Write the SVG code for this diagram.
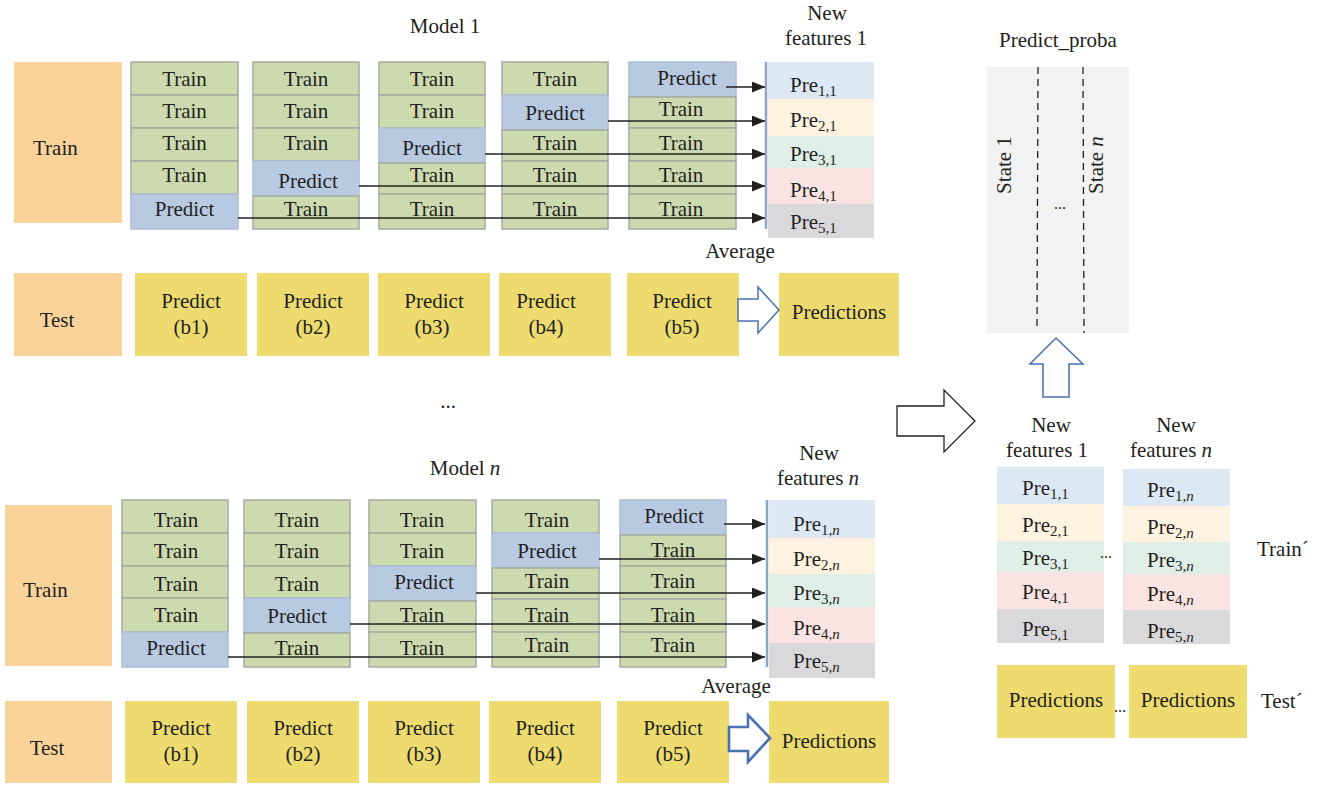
<svg xmlns="http://www.w3.org/2000/svg" width="1323" height="786" viewBox="0 0 1323 786">
<defs>
<style>
text{font-family:"Liberation Serif","Times New Roman",serif;fill:#231f20;font-size:21px}
.c{text-anchor:middle}
.g{fill:#cddab0;stroke:#a7aaa0;stroke-width:1.5}
.b{fill:#b8c9e2;stroke:#adbdd5;stroke-width:1.5}
.o{fill:#f9d39a}
.y{fill:#eddb6f}
.p1{fill:#dde8f5}.p2{fill:#fef3e0}.p3{fill:#dfeee6}.p4{fill:#fae4e3}.p5{fill:#d9d9db}
.sub{font-size:15px}
.it{font-style:italic}
.conn{stroke:#231f20;stroke-width:1.5;fill:none;marker-end:url(#ah)}
.vbar{stroke:#8fa3c4;stroke-width:2.5}
.barrow{fill:#fff;stroke:#4a72b0;stroke-width:1.5}
</style>
<marker id="ah" markerUnits="userSpaceOnUse" markerWidth="13" markerHeight="11" viewBox="0 0 13 11" refX="13" refY="5.5" orient="auto">
<path d="M0,0 L13,5.5 L0,11 z" fill="#231f20"/>
</marker>
</defs>
<rect width="1323" height="786" fill="#fff"/>

<!-- ===== Model 1 ===== -->
<g id="model1-title"><text class="c" x="445" y="33">Model  1</text></g>
<g id="train1"><rect class="o" x="14" y="62" width="108" height="161"/><text x="33" y="155">Train</text></g>

<g id="m1-col1">
<rect class="g" x="131" y="62" width="107" height="33"/><text class="c" x="184.5" y="86">Train</text>
<rect class="g" x="131" y="95" width="107" height="33"/><text class="c" x="184.5" y="118">Train</text>
<rect class="g" x="131" y="128" width="107" height="33"/><text class="c" x="184.5" y="150">Train</text>
<rect class="g" x="131" y="161" width="107" height="33"/><text class="c" x="184.5" y="182">Train</text>
<rect class="b" x="131" y="194" width="107" height="35"/><text class="c" x="184.5" y="216">Predict</text>
</g>
<g id="m1-col2">
<rect class="g" x="253" y="62" width="106" height="33"/><text class="c" x="306" y="86">Train</text>
<rect class="g" x="253" y="95" width="106" height="33"/><text class="c" x="306" y="118">Train</text>
<rect class="g" x="253" y="128" width="106" height="33"/><text class="c" x="306" y="150">Train</text>
<rect class="b" x="253" y="161" width="106" height="35"/><text class="c" x="308" y="188">Predict</text>
<rect class="g" x="253" y="196" width="106" height="33"/><text class="c" x="306" y="216">Train</text>
</g>
<g id="m1-col3">
<rect class="g" x="379" y="62" width="106" height="33"/><text class="c" x="432" y="86">Train</text>
<rect class="g" x="379" y="95" width="106" height="33"/><text class="c" x="432" y="118">Train</text>
<rect class="b" x="379" y="128" width="106" height="35"/><text class="c" x="432" y="155">Predict</text>
<rect class="g" x="379" y="163" width="106" height="31"/><text class="c" x="432" y="182">Train</text>
<rect class="g" x="379" y="194" width="106" height="35"/><text class="c" x="432" y="216">Train</text>
</g>
<g id="m1-col4">
<rect class="g" x="502" y="62" width="106" height="33"/><text class="c" x="555" y="86">Train</text>
<rect class="b" x="502" y="95" width="106" height="35"/><text class="c" x="555" y="120">Predict</text>
<rect class="g" x="502" y="130" width="106" height="31"/><text class="c" x="555" y="150">Train</text>
<rect class="g" x="502" y="161" width="106" height="33"/><text class="c" x="555" y="182">Train</text>
<rect class="g" x="502" y="194" width="106" height="35"/><text class="c" x="555" y="216">Train</text>
</g>
<g id="m1-col5">
<rect class="b" x="629" y="62" width="107" height="35"/><text class="c" x="687" y="85">Predict</text>
<rect class="g" x="629" y="97" width="107" height="31"/><text class="c" x="681" y="116">Train</text>
<rect class="g" x="629" y="128" width="107" height="33"/><text class="c" x="681" y="150">Train</text>
<rect class="g" x="629" y="161" width="107" height="33"/><text class="c" x="681" y="182">Train</text>
<rect class="g" x="629" y="194" width="107" height="35"/><text class="c" x="681" y="216">Train</text>
</g>

<g id="newfeat1-title"><text class="c" x="827" y="20">New</text><text class="c" x="826" y="45">features 1</text></g>
<g id="newfeat1">
<line class="vbar" x1="766" y1="62" x2="766" y2="229"/>
<rect class="p1" x="768" y="62" width="106" height="37"/><text x="790" y="92">Pre<tspan class="sub" dy="4">1,1</tspan></text>
<rect class="p2" x="768" y="99" width="106" height="37"/><text x="790" y="127">Pre<tspan class="sub" dy="4">2,1</tspan></text>
<rect class="p3" x="768" y="136" width="106" height="32"/><text x="790" y="161">Pre<tspan class="sub" dy="4">3,1</tspan></text>
<rect class="p4" x="768" y="168" width="106" height="36"/><text x="790" y="197">Pre<tspan class="sub" dy="4">4,1</tspan></text>
<rect class="p5" x="768" y="204" width="106" height="34"/><text x="790" y="229">Pre<tspan class="sub" dy="4">5,1</tspan></text>
</g>

<g id="test1"><rect class="o" x="14" y="273" width="108" height="83"/><text class="c" x="57" y="327">Test</text></g>
<g id="m1-b1"><rect class="y" x="135" y="273" width="112" height="83"/><text class="c" x="191" y="308">Predict</text><text class="c" x="191" y="334">(b1)</text></g>
<g id="m1-b2"><rect class="y" x="257" y="273" width="112" height="83"/><text class="c" x="313" y="308">Predict</text><text class="c" x="313" y="334">(b2)</text></g>
<g id="m1-b3"><rect class="y" x="378" y="273" width="112" height="83"/><text class="c" x="434" y="308">Predict</text><text class="c" x="432" y="334">(b3)</text></g>
<g id="m1-b4"><rect class="y" x="499" y="273" width="112" height="83"/><text class="c" x="546" y="308">Predict</text><text class="c" x="546" y="334">(b4)</text></g>
<g id="m1-b5"><rect class="y" x="627" y="273" width="112" height="83"/><text class="c" x="682" y="308">Predict</text><text class="c" x="682" y="334">(b5)</text></g>
<g id="m1-pred"><rect class="y" x="779" y="273" width="120" height="83"/><text class="c" x="839" y="319">Predictions</text></g>
<g id="m1-avg"><text class="c" x="740" y="258">Average</text></g>

<g id="ellipsis-mid"><text class="c" x="448" y="408">...</text></g>

<!-- ===== Model n ===== -->
<g id="modeln-title"><text class="c" x="465" y="475">Model <tspan class="it">n</tspan></text></g>
<g id="trainn"><rect class="o" x="5" y="505" width="107" height="161"/><text x="23" y="597">Train</text></g>

<g id="mn-col1">
<rect class="g" x="122" y="500" width="106" height="33"/><text class="c" x="176" y="527">Train</text>
<rect class="g" x="122" y="533" width="106" height="33"/><text class="c" x="176" y="558">Train</text>
<rect class="g" x="122" y="566" width="106" height="32"/><text class="c" x="176" y="591">Train</text>
<rect class="g" x="122" y="598" width="106" height="34"/><text class="c" x="176" y="622">Train</text>
<rect class="b" x="122" y="632" width="106" height="35"/><text class="c" x="176" y="655">Predict</text>
</g>
<g id="mn-col2">
<rect class="g" x="244" y="500" width="106" height="33"/><text class="c" x="297" y="527">Train</text>
<rect class="g" x="244" y="533" width="106" height="33"/><text class="c" x="297" y="558">Train</text>
<rect class="g" x="244" y="566" width="106" height="32"/><text class="c" x="297" y="591">Train</text>
<rect class="b" x="244" y="598" width="106" height="35"/><text class="c" x="297" y="623">Predict</text>
<rect class="g" x="244" y="633" width="106" height="34"/><text class="c" x="297" y="655">Train</text>
</g>
<g id="mn-col3">
<rect class="g" x="369" y="500" width="107" height="33"/><text class="c" x="422" y="527">Train</text>
<rect class="g" x="369" y="533" width="107" height="33"/><text class="c" x="422" y="558">Train</text>
<rect class="b" x="369" y="566" width="107" height="35"/><text class="c" x="424" y="589">Predict</text>
<rect class="g" x="369" y="601" width="107" height="31"/><text class="c" x="422" y="622">Train</text>
<rect class="g" x="369" y="632" width="107" height="35"/><text class="c" x="422" y="655">Train</text>
</g>
<g id="mn-col4">
<rect class="g" x="492" y="500" width="107" height="33"/><text class="c" x="547" y="527">Train</text>
<rect class="b" x="492" y="533" width="107" height="35"/><text class="c" x="547" y="558">Predict</text>
<rect class="g" x="492" y="568" width="107" height="31"/><text class="c" x="547" y="588">Train</text>
<rect class="g" x="492" y="599" width="107" height="33"/><text class="c" x="547" y="622">Train</text>
<rect class="g" x="492" y="632" width="107" height="35"/><text class="c" x="547" y="652">Train</text>
</g>
<g id="mn-col5">
<rect class="b" x="620" y="500" width="106" height="35"/><text class="c" x="674" y="523">Predict</text>
<rect class="g" x="620" y="535" width="106" height="31"/><text class="c" x="673" y="557">Train</text>
<rect class="g" x="620" y="566" width="106" height="33"/><text class="c" x="673" y="588">Train</text>
<rect class="g" x="620" y="599" width="106" height="33"/><text class="c" x="673" y="622">Train</text>
<rect class="g" x="620" y="632" width="106" height="35"/><text class="c" x="673" y="652">Train</text>
</g>

<g id="newfeatn-title"><text class="c" x="819" y="460">New</text><text class="c" x="818" y="485">features <tspan class="it">n</tspan></text></g>
<g id="newfeatn">
<line class="vbar" x1="767" y1="500" x2="767" y2="667"/>
<rect class="p1" x="769" y="500" width="106" height="38"/><text x="793" y="531">Pre<tspan class="sub" dy="4">1,<tspan class="it">n</tspan></tspan></text>
<rect class="p2" x="769" y="538" width="106" height="36"/><text x="793" y="566">Pre<tspan class="sub" dy="4">2,<tspan class="it">n</tspan></tspan></text>
<rect class="p3" x="769" y="574" width="106" height="33"/><text x="793" y="600">Pre<tspan class="sub" dy="4">3,<tspan class="it">n</tspan></tspan></text>
<rect class="p4" x="769" y="607" width="106" height="36"/><text x="793" y="635">Pre<tspan class="sub" dy="4">4,<tspan class="it">n</tspan></tspan></text>
<rect class="p5" x="769" y="643" width="106" height="35"/><text x="793" y="668">Pre<tspan class="sub" dy="4">5,<tspan class="it">n</tspan></tspan></text>
</g>

<g id="testn"><rect class="o" x="5" y="701" width="107" height="82"/><text class="c" x="47" y="755">Test</text></g>
<g id="mn-b1"><rect class="y" x="125" y="701" width="112" height="82"/><text class="c" x="181" y="735">Predict</text><text class="c" x="181" y="761">(b1)</text></g>
<g id="mn-b2"><rect class="y" x="247" y="701" width="112" height="82"/><text class="c" x="303" y="735">Predict</text><text class="c" x="303" y="761">(b2)</text></g>
<g id="mn-b3"><rect class="y" x="368" y="701" width="112" height="82"/><text class="c" x="424" y="735">Predict</text><text class="c" x="424" y="761">(b3)</text></g>
<g id="mn-b4"><rect class="y" x="489" y="701" width="112" height="82"/><text class="c" x="545" y="735">Predict</text><text class="c" x="545" y="761">(b4)</text></g>
<g id="mn-b5"><rect class="y" x="617" y="701" width="112" height="82"/><text class="c" x="673" y="735">Predict</text><text class="c" x="673" y="761">(b5)</text></g>
<g id="mn-pred"><rect class="y" x="769" y="701" width="120" height="82"/><text class="c" x="829" y="748">Predictions</text></g>
<g id="mn-avg"><text class="c" x="736" y="693">Average</text></g>

<!-- ===== Right side ===== -->
<g id="predict-proba">
<text class="c" x="1058" y="47">Predict_proba</text>
<rect x="987" y="67" width="142" height="266" fill="#f2f2f2"/>
<line x1="1038" y1="67" x2="1037" y2="327" stroke="#231f20" stroke-width="1.3" stroke-dasharray="7,5"/>
<line x1="1083" y1="67" x2="1084" y2="333" stroke="#231f20" stroke-width="1.3" stroke-dasharray="7,5"/>
<text class="c" transform="translate(1011,165) rotate(-90)">State 1</text>
<text class="c" transform="translate(1103,165) rotate(-90)">State <tspan class="it">n</tspan></text>
<text class="c" x="1060" y="209" style="font-size:16px">...</text>
</g>

<g id="rf-title1"><text class="c" x="1051" y="432">New</text><text class="c" x="1047" y="457">features 1</text></g>
<g id="rf-title2"><text class="c" x="1176" y="432">New</text><text class="c" x="1171" y="457">features <tspan class="it">n</tspan></text></g>
<g id="rf-col1">
<rect class="p1" x="997" y="467" width="107" height="37"/><text x="1022" y="495">Pre<tspan class="sub" dy="4">1,1</tspan></text>
<rect class="p2" x="997" y="504" width="107" height="37"/><text x="1022" y="532">Pre<tspan class="sub" dy="4">2,1</tspan></text>
<rect class="p3" x="997" y="541" width="107" height="31"/><text x="1022" y="565">Pre<tspan class="sub" dy="4">3,1</tspan></text>
<rect class="p4" x="997" y="572" width="107" height="37"/><text x="1022" y="599">Pre<tspan class="sub" dy="4">4,1</tspan></text>
<rect class="p5" x="997" y="609" width="107" height="34"/><text x="1022" y="636">Pre<tspan class="sub" dy="4">5,1</tspan></text>
</g>
<g id="rf-dots"><text class="c" x="1106" y="558" style="font-size:16px">...</text></g>
<g id="rf-coln">
<rect class="p1" x="1123" y="469" width="107" height="37"/><text x="1147" y="497">Pre<tspan class="sub" dy="4">1,<tspan class="it">n</tspan></tspan></text>
<rect class="p2" x="1123" y="506" width="107" height="36"/><text x="1147" y="534">Pre<tspan class="sub" dy="4">2,<tspan class="it">n</tspan></tspan></text>
<rect class="p3" x="1123" y="542" width="107" height="32"/><text x="1147" y="567">Pre<tspan class="sub" dy="4">3,<tspan class="it">n</tspan></tspan></text>
<rect class="p4" x="1123" y="574" width="107" height="36"/><text x="1147" y="601">Pre<tspan class="sub" dy="4">4,<tspan class="it">n</tspan></tspan></text>
<rect class="p5" x="1123" y="610" width="107" height="34"/><text x="1147" y="638">Pre<tspan class="sub" dy="4">5,<tspan class="it">n</tspan></tspan></text>
</g>
<g id="train-prime"><text x="1257" y="556">Train´</text></g>
<g id="rp1"><rect class="y" x="997" y="665" width="118" height="73"/><text class="c" x="1056" y="707">Predictions</text></g>
<g id="rp-dots"><text class="c" x="1120" y="712" style="font-size:16px">...</text></g>
<g id="rp2"><rect class="y" x="1129" y="665" width="118" height="73"/><text class="c" x="1188" y="707">Predictions</text></g>
<g id="test-prime"><text x="1261" y="708">Test´</text></g>

<!-- ===== Connectors ===== -->
<g id="connectors">
<line class="conn" x1="726" y1="87" x2="765" y2="87"/>
<line class="conn" x1="608" y1="121" x2="765" y2="121"/>
<line class="conn" x1="485" y1="154" x2="765" y2="154"/>
<line class="conn" x1="359" y1="186" x2="765" y2="186"/>
<line class="conn" x1="238" y1="218" x2="765" y2="218"/>
<line class="conn" x1="724" y1="524" x2="765" y2="524"/>
<line class="conn" x1="599" y1="559" x2="765" y2="559"/>
<line class="conn" x1="476" y1="593" x2="765" y2="593"/>
<line class="conn" x1="350" y1="624" x2="765" y2="624"/>
<line class="conn" x1="228" y1="657" x2="765" y2="657"/>
<polygon class="barrow" points="738,299 758,299 758,287 779,310 758,333 758,321 738,321"/>
<polygon class="barrow" style="stroke-width:2.6" points="729,727 748,727 748,715 770,738 748,762 748,751 729,751"/>
<polygon class="barrow" points="1056,338 1083,364 1069,364 1069,397 1043,397 1043,364 1030,364"/>
<polygon fill="#fff" stroke="#231f20" stroke-width="1.3" points="897,406 944,406 944,390 975,421 944,452 944,436 897,436"/>
</g>
</svg>
